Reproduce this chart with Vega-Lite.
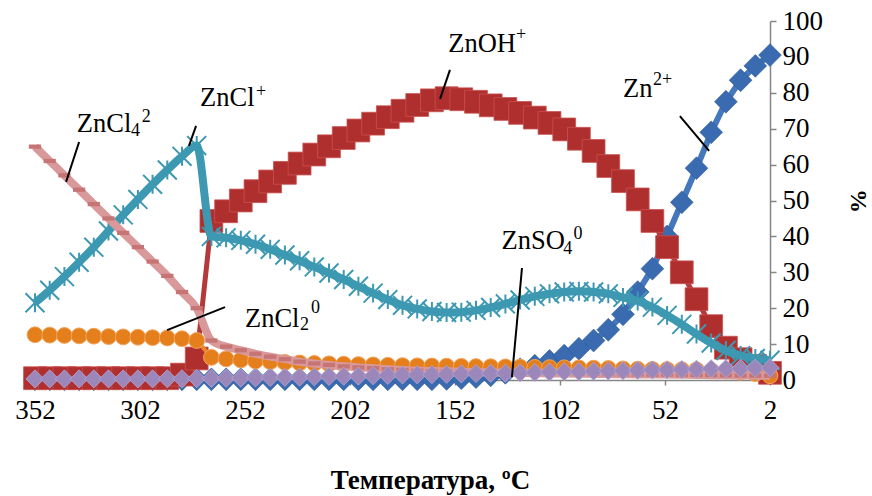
{
  "$schema": "https://vega.github.io/schema/vega-lite/v6.json",
  "width": 735,
  "height": 359,
  "autosize": {"type": "none"},
  "padding": {"left": 35, "top": 21, "right": 102, "bottom": 116},
  "background": "white",
  "config": {
    "view": {"stroke": null},
    "style": {
      "guide-label": {"font": "Liberation Serif", "fontSize": 27, "fill": "black"},
      "guide-title": {"font": "Liberation Serif", "fontWeight": "bold", "fill": "black"}
    }
  },
  "datasets": {
    "species": [
      {"T":352,"Zn":0.2,"ZnOH":0.5,"ZnCl":21.5,"ZnCl2":12.6,"ZnCl4":65,"ZnSO4":0.3},
      {"T":345,"Zn":0.2,"ZnOH":0.5,"ZnCl":25,"ZnCl2":12.5,"ZnCl4":61,"ZnSO4":0.3},
      {"T":338,"Zn":0.2,"ZnOH":0.5,"ZnCl":28.8,"ZnCl2":12.4,"ZnCl4":57,"ZnSO4":0.3},
      {"T":331,"Zn":0.2,"ZnOH":0.5,"ZnCl":32.8,"ZnCl2":12.3,"ZnCl4":53,"ZnSO4":0.3},
      {"T":324,"Zn":0.2,"ZnOH":0.5,"ZnCl":37,"ZnCl2":12.2,"ZnCl4":49,"ZnSO4":0.3},
      {"T":317,"Zn":0.2,"ZnOH":0.5,"ZnCl":41.5,"ZnCl2":12.1,"ZnCl4":45,"ZnSO4":0.3},
      {"T":310,"Zn":0.2,"ZnOH":0.5,"ZnCl":46,"ZnCl2":12,"ZnCl4":41,"ZnSO4":0.3},
      {"T":303,"Zn":0.2,"ZnOH":0.5,"ZnCl":50.3,"ZnCl2":11.9,"ZnCl4":37,"ZnSO4":0.3},
      {"T":296,"Zn":0.2,"ZnOH":0.5,"ZnCl":54.5,"ZnCl2":11.8,"ZnCl4":33,"ZnSO4":0.3},
      {"T":289,"Zn":0.2,"ZnOH":0.5,"ZnCl":58.5,"ZnCl2":11.7,"ZnCl4":29,"ZnSO4":0.35},
      {"T":282,"Zn":0.2,"ZnOH":1.5,"ZnCl":62.3,"ZnCl2":11.5,"ZnCl4":24.5,"ZnSO4":0.35},
      {"T":275,"Zn":0.2,"ZnOH":6,"ZnCl":65.3,"ZnCl2":11,"ZnCl4":20,"ZnSO4":0.4},
      {"T":268,"Zn":0.2,"ZnOH":44.3,"ZnCl":40,"ZnCl2":6.3,"ZnCl4":11,"ZnSO4":0.45},
      {"T":261,"Zn":0.2,"ZnOH":47,"ZnCl":39.6,"ZnCl2":5.9,"ZnCl4":9.3,"ZnSO4":0.5},
      {"T":254,"Zn":0.2,"ZnOH":50,"ZnCl":38.9,"ZnCl2":5.6,"ZnCl4":8.3,"ZnSO4":0.55},
      {"T":247,"Zn":0.2,"ZnOH":52.6,"ZnCl":37.8,"ZnCl2":5.3,"ZnCl4":7.3,"ZnSO4":0.6},
      {"T":240,"Zn":0.2,"ZnOH":55.3,"ZnCl":36.4,"ZnCl2":5.1,"ZnCl4":6.5,"ZnSO4":0.7},
      {"T":233,"Zn":0.2,"ZnOH":57.7,"ZnCl":34.8,"ZnCl2":4.9,"ZnCl4":5.8,"ZnSO4":0.75},
      {"T":226,"Zn":0.2,"ZnOH":60.3,"ZnCl":33.2,"ZnCl2":4.75,"ZnCl4":5.1,"ZnSO4":0.8},
      {"T":219,"Zn":0.2,"ZnOH":62.8,"ZnCl":31.5,"ZnCl2":4.6,"ZnCl4":4.6,"ZnSO4":0.9},
      {"T":212,"Zn":0.2,"ZnOH":65.1,"ZnCl":29.8,"ZnCl2":4.5,"ZnCl4":4.2,"ZnSO4":1.0},
      {"T":205,"Zn":0.2,"ZnOH":67.4,"ZnCl":28,"ZnCl2":4.4,"ZnCl4":3.8,"ZnSO4":1.05},
      {"T":198,"Zn":0.2,"ZnOH":69.5,"ZnCl":26.1,"ZnCl2":4.3,"ZnCl4":3.5,"ZnSO4":1.1},
      {"T":191,"Zn":0.2,"ZnOH":71.4,"ZnCl":24.2,"ZnCl2":4.2,"ZnCl4":3.3,"ZnSO4":1.2},
      {"T":184,"Zn":0.2,"ZnOH":73.2,"ZnCl":22.4,"ZnCl2":4.1,"ZnCl4":3.0,"ZnSO4":1.3},
      {"T":177,"Zn":0.2,"ZnOH":75,"ZnCl":20.8,"ZnCl2":4.0,"ZnCl4":2.8,"ZnSO4":1.4},
      {"T":170,"Zn":0.2,"ZnOH":76.6,"ZnCl":19.8,"ZnCl2":3.95,"ZnCl4":2.6,"ZnSO4":1.45},
      {"T":163,"Zn":0.2,"ZnOH":77.9,"ZnCl":19.1,"ZnCl2":3.9,"ZnCl4":2.5,"ZnSO4":1.5},
      {"T":156,"Zn":0.3,"ZnOH":78.5,"ZnCl":18.8,"ZnCl2":3.85,"ZnCl4":2.4,"ZnSO4":1.6},
      {"T":149,"Zn":0.5,"ZnOH":78.2,"ZnCl":18.9,"ZnCl2":3.8,"ZnCl4":2.3,"ZnSO4":1.7},
      {"T":142,"Zn":0.8,"ZnOH":77.5,"ZnCl":19.4,"ZnCl2":3.75,"ZnCl4":2.2,"ZnSO4":1.8},
      {"T":135,"Zn":1.3,"ZnOH":76.5,"ZnCl":20.2,"ZnCl2":3.7,"ZnCl4":2.1,"ZnSO4":1.85},
      {"T":128,"Zn":2,"ZnOH":75.5,"ZnCl":21.2,"ZnCl2":3.65,"ZnCl4":2.0,"ZnSO4":1.9},
      {"T":121,"Zn":3,"ZnOH":74.4,"ZnCl":22.3,"ZnCl2":3.6,"ZnCl4":1.95,"ZnSO4":2.0},
      {"T":114,"Zn":4,"ZnOH":73.1,"ZnCl":23.3,"ZnCl2":3.5,"ZnCl4":1.9,"ZnSO4":2.1},
      {"T":107,"Zn":5.3,"ZnOH":71.6,"ZnCl":24,"ZnCl2":3.45,"ZnCl4":1.85,"ZnSO4":2.2},
      {"T":100,"Zn":6.8,"ZnOH":69.8,"ZnCl":24.5,"ZnCl2":3.4,"ZnCl4":1.8,"ZnSO4":2.3},
      {"T":93,"Zn":8.7,"ZnOH":67.2,"ZnCl":24.7,"ZnCl2":3.35,"ZnCl4":1.75,"ZnSO4":2.35},
      {"T":86,"Zn":11,"ZnOH":63.8,"ZnCl":24.5,"ZnCl2":3.3,"ZnCl4":1.7,"ZnSO4":2.45},
      {"T":79,"Zn":14,"ZnOH":59.6,"ZnCl":24,"ZnCl2":3.2,"ZnCl4":1.65,"ZnSO4":2.5},
      {"T":72,"Zn":18.3,"ZnOH":55.4,"ZnCl":23,"ZnCl2":3.1,"ZnCl4":1.6,"ZnSO4":2.6},
      {"T":65,"Zn":24.5,"ZnOH":50.3,"ZnCl":22,"ZnCl2":3.0,"ZnCl4":1.55,"ZnSO4":2.7},
      {"T":58,"Zn":31,"ZnOH":44.3,"ZnCl":20.3,"ZnCl2":2.95,"ZnCl4":1.5,"ZnSO4":2.8},
      {"T":51,"Zn":40,"ZnOH":37,"ZnCl":18,"ZnCl2":2.9,"ZnCl4":1.5,"ZnSO4":2.85},
      {"T":44,"Zn":49.5,"ZnOH":30,"ZnCl":15.5,"ZnCl2":2.85,"ZnCl4":1.45,"ZnSO4":2.9},
      {"T":37,"Zn":59,"ZnOH":22.5,"ZnCl":12.8,"ZnCl2":2.8,"ZnCl4":1.4,"ZnSO4":3.0},
      {"T":30,"Zn":69,"ZnOH":15,"ZnCl":10.3,"ZnCl2":2.6,"ZnCl4":1.35,"ZnSO4":3.1},
      {"T":23,"Zn":77.5,"ZnOH":9,"ZnCl":8.2,"ZnCl2":2.5,"ZnCl4":1.3,"ZnSO4":3.15},
      {"T":16,"Zn":83.5,"ZnOH":5.8,"ZnCl":6.8,"ZnCl2":2.2,"ZnCl4":1.25,"ZnSO4":3.2},
      {"T":9,"Zn":87.5,"ZnOH":3.9,"ZnCl":6,"ZnCl2":1.8,"ZnCl4":1.2,"ZnSO4":3.3},
      {"T":2,"Zn":90.5,"ZnOH":2,"ZnCl":5.5,"ZnCl2":1.2,"ZnCl4":1.2,"ZnSO4":3.4}
    ],
    "leaders": [
      {"T":331,"v":66.3,"T2":337.2,"v2":55.2},
      {"T":275.3,"v":70.8,"T2":278.7,"v2":65.2},
      {"T":154.4,"v":86.4,"T2":159.1,"v2":78.3},
      {"T":44.9,"v":73.5,"T2":31,"v2":63.8},
      {"T":120.1,"v":31.2,"T2":124.9,"v2":0.8},
      {"T":261.5,"v":20.3,"T2":289.1,"v2":13.9}
    ],
    "labels": [
      {"label":"ZnCl","T":332.1,"v":69.2},
      {"label":"ZnCl","T":273.4,"v":76.3},
      {"label":"ZnOH","T":155.2,"v":91.4},
      {"label":"Zn","T":72,"v":78.9},
      {"label":"ZnSO","T":129.8,"v":36.4},
      {"label":"ZnCl","T":252,"v":14.8}
    ],
    "scripts": [
      {"label":"4","T":306.3,"v":67.9},
      {"label":"2","T":301.2,"v":71.9},
      {"label":"+","T":246.8,"v":78.8},
      {"label":"+","T":123,"v":94.7},
      {"label":"2+","T":57.7,"v":82.2},
      {"label":"4","T":100.4,"v":35.0},
      {"label":"0","T":95.6,"v":39.4},
      {"label":"2","T":225.8,"v":13.9},
      {"label":"0","T":220.6,"v":18.7}
    ]
  },
  "encoding": {
    "x": {"field": "T", "type": "quantitative", "scale": {"domain": [2, 352], "reverse": true, "nice": false, "zero": false},
      "axis": {"values": [352, 302, 252, 202, 152, 102, 52, 2], "grid": false, "domainColor": "#868686", "tickColor": "#868686", "domainWidth": 1.5, "tickWidth": 1.5, "tickSize": 5,
        "labelFont": "Liberation Serif", "labelFontSize": 27, "labelColor": "black", "labelPadding": 12, "labelFlush": false, "labelOverlap": false,
        "title": "Температура, ºC", "titleFont": "Liberation Serif", "titleFontSize": 27, "titleFontWeight": "bold", "titleColor": "black",
        "titleX": 395, "titleY": 108, "titleBaseline": "alphabetic", "titleAlign": "center"}}
  },
  "layer": [
    {
      "data": {"name": "species"},
      "mark": {"type": "line", "color": "#4577BD", "strokeWidth": 6},
      "encoding": {
        "y": {"field": "Zn", "type": "quantitative", "scale": {"domain": [0, 100], "nice": false},
          "axis": {"orient": "right", "values": [0, 10, 20, 30, 40, 50, 60, 70, 80, 90, 100], "grid": false, "domainColor": "#868686", "tickColor": "#868686", "domainWidth": 1.5, "tickWidth": 1.5, "tickSize": 6,
            "labelFont": "Liberation Serif", "labelFontSize": 27, "labelColor": "black", "labelPadding": 6, "labelFlush": false, "labelOverlap": false,
            "title": "%", "titleFont": "Liberation Serif", "titleFontSize": 24, "titleFontWeight": "bold", "titleColor": "black",
            "titleAngle": 90, "titleX": 87, "titleY": 179.5, "titleAlign": "center", "titleBaseline": "middle"}}
      }
    },
    {
      "data": {"name": "species"},
      "mark": {"type": "point", "shape": "diamond", "size": 520, "filled": true, "color": "#3A6BB0", "stroke": "#2E5A96", "strokeWidth": 0.6, "opacity": 1},
      "encoding": {
        "y": {"field": "Zn", "type": "quantitative",
          "axis": {"orient": "right", "values": [0, 10, 20, 30, 40, 50, 60, 70, 80, 90, 100], "grid": false, "domainColor": "#868686", "tickColor": "#868686", "domainWidth": 1.5, "tickWidth": 1.5, "tickSize": 6,
            "labelFont": "Liberation Serif", "labelFontSize": 27, "labelColor": "black", "labelPadding": 6, "labelFlush": false, "labelOverlap": false,
            "title": "%", "titleFont": "Liberation Serif", "titleFontSize": 24, "titleFontWeight": "bold", "titleColor": "black",
            "titleAngle": 90, "titleX": 87, "titleY": 179.5, "titleAlign": "center", "titleBaseline": "middle"}}
      }
    },
    {
      "data": {"name": "species"},
      "mark": {"type": "line", "color": "#B3393A", "strokeWidth": 5},
      "encoding": {
        "y": {"field": "ZnOH", "type": "quantitative",
          "axis": {"orient": "right", "values": [0, 10, 20, 30, 40, 50, 60, 70, 80, 90, 100], "grid": false, "domainColor": "#868686", "tickColor": "#868686", "domainWidth": 1.5, "tickWidth": 1.5, "tickSize": 6,
            "labelFont": "Liberation Serif", "labelFontSize": 27, "labelColor": "black", "labelPadding": 6, "labelFlush": false, "labelOverlap": false,
            "title": "%", "titleFont": "Liberation Serif", "titleFontSize": 24, "titleFontWeight": "bold", "titleColor": "black",
            "titleAngle": 90, "titleX": 87, "titleY": 179.5, "titleAlign": "center", "titleBaseline": "middle"}}
      }
    },
    {
      "data": {"name": "species"},
      "mark": {"type": "point", "shape": "square", "size": 520, "filled": true, "color": "#AF2F2F", "stroke": "#C9504F", "strokeWidth": 0.8, "opacity": 1},
      "encoding": {
        "y": {"field": "ZnOH", "type": "quantitative",
          "axis": {"orient": "right", "values": [0, 10, 20, 30, 40, 50, 60, 70, 80, 90, 100], "grid": false, "domainColor": "#868686", "tickColor": "#868686", "domainWidth": 1.5, "tickWidth": 1.5, "tickSize": 6,
            "labelFont": "Liberation Serif", "labelFontSize": 27, "labelColor": "black", "labelPadding": 6, "labelFlush": false, "labelOverlap": false,
            "title": "%", "titleFont": "Liberation Serif", "titleFontSize": 24, "titleFontWeight": "bold", "titleColor": "black",
            "titleAngle": 90, "titleX": 87, "titleY": 179.5, "titleAlign": "center", "titleBaseline": "middle"}}
      }
    },
    {
      "data": {"name": "species"},
      "mark": {"type": "line", "color": "#3D99B2", "strokeWidth": 8, "interpolate": "monotone"},
      "encoding": {
        "y": {"field": "ZnCl", "type": "quantitative",
          "axis": {"orient": "right", "values": [0, 10, 20, 30, 40, 50, 60, 70, 80, 90, 100], "grid": false, "domainColor": "#868686", "tickColor": "#868686", "domainWidth": 1.5, "tickWidth": 1.5, "tickSize": 6,
            "labelFont": "Liberation Serif", "labelFontSize": 27, "labelColor": "black", "labelPadding": 6, "labelFlush": false, "labelOverlap": false,
            "title": "%", "titleFont": "Liberation Serif", "titleFontSize": 24, "titleFontWeight": "bold", "titleColor": "black",
            "titleAngle": 90, "titleX": 87, "titleY": 179.5, "titleAlign": "center", "titleBaseline": "middle"}}
      }
    },
    {
      "data": {"name": "species"},
      "mark": {"type": "point", "shape": "M-1,-1L1,1M-1,1L1,-1M0,-1L0,1", "size": 360, "filled": false, "stroke": "#3D99B2", "strokeWidth": 2, "opacity": 1},
      "encoding": {
        "y": {"field": "ZnCl", "type": "quantitative",
          "axis": {"orient": "right", "values": [0, 10, 20, 30, 40, 50, 60, 70, 80, 90, 100], "grid": false, "domainColor": "#868686", "tickColor": "#868686", "domainWidth": 1.5, "tickWidth": 1.5, "tickSize": 6,
            "labelFont": "Liberation Serif", "labelFontSize": 27, "labelColor": "black", "labelPadding": 6, "labelFlush": false, "labelOverlap": false,
            "title": "%", "titleFont": "Liberation Serif", "titleFontSize": 24, "titleFontWeight": "bold", "titleColor": "black",
            "titleAngle": 90, "titleX": 87, "titleY": 179.5, "titleAlign": "center", "titleBaseline": "middle"}}
      }
    },
    {
      "data": {"name": "species"},
      "mark": {"type": "line", "color": "#E9852A", "strokeWidth": 4},
      "encoding": {
        "y": {"field": "ZnCl2", "type": "quantitative",
          "axis": {"orient": "right", "values": [0, 10, 20, 30, 40, 50, 60, 70, 80, 90, 100], "grid": false, "domainColor": "#868686", "tickColor": "#868686", "domainWidth": 1.5, "tickWidth": 1.5, "tickSize": 6,
            "labelFont": "Liberation Serif", "labelFontSize": 27, "labelColor": "black", "labelPadding": 6, "labelFlush": false, "labelOverlap": false,
            "title": "%", "titleFont": "Liberation Serif", "titleFontSize": 24, "titleFontWeight": "bold", "titleColor": "black",
            "titleAngle": 90, "titleX": 87, "titleY": 179.5, "titleAlign": "center", "titleBaseline": "middle"}}
      }
    },
    {
      "data": {"name": "species"},
      "mark": {"type": "point", "shape": "circle", "size": 250, "filled": true, "color": "#E57F1C", "stroke": "#F2A55C", "strokeWidth": 1, "opacity": 1},
      "encoding": {
        "y": {"field": "ZnCl2", "type": "quantitative",
          "axis": {"orient": "right", "values": [0, 10, 20, 30, 40, 50, 60, 70, 80, 90, 100], "grid": false, "domainColor": "#868686", "tickColor": "#868686", "domainWidth": 1.5, "tickWidth": 1.5, "tickSize": 6,
            "labelFont": "Liberation Serif", "labelFontSize": 27, "labelColor": "black", "labelPadding": 6, "labelFlush": false, "labelOverlap": false,
            "title": "%", "titleFont": "Liberation Serif", "titleFontSize": 24, "titleFontWeight": "bold", "titleColor": "black",
            "titleAngle": 90, "titleX": 87, "titleY": 179.5, "titleAlign": "center", "titleBaseline": "middle"}}
      }
    },
    {
      "data": {"name": "species"},
      "mark": {"type": "line", "color": "#D9999A", "strokeWidth": 8, "interpolate": "monotone"},
      "encoding": {
        "y": {"field": "ZnCl4", "type": "quantitative",
          "axis": {"orient": "right", "values": [0, 10, 20, 30, 40, 50, 60, 70, 80, 90, 100], "grid": false, "domainColor": "#868686", "tickColor": "#868686", "domainWidth": 1.5, "tickWidth": 1.5, "tickSize": 6,
            "labelFont": "Liberation Serif", "labelFontSize": 27, "labelColor": "black", "labelPadding": 6, "labelFlush": false, "labelOverlap": false,
            "title": "%", "titleFont": "Liberation Serif", "titleFontSize": 24, "titleFontWeight": "bold", "titleColor": "black",
            "titleAngle": 90, "titleX": 87, "titleY": 179.5, "titleAlign": "center", "titleBaseline": "middle"}}
      }
    },
    {
      "data": {"name": "species"},
      "mark": {"type": "point", "shape": "M-1,-0.35L1,-0.35L1,0.35L-1,0.35Z", "size": 150, "filled": true, "color": "#C77574", "opacity": 1},
      "encoding": {
        "y": {"field": "ZnCl4", "type": "quantitative",
          "axis": {"orient": "right", "values": [0, 10, 20, 30, 40, 50, 60, 70, 80, 90, 100], "grid": false, "domainColor": "#868686", "tickColor": "#868686", "domainWidth": 1.5, "tickWidth": 1.5, "tickSize": 6,
            "labelFont": "Liberation Serif", "labelFontSize": 27, "labelColor": "black", "labelPadding": 6, "labelFlush": false, "labelOverlap": false,
            "title": "%", "titleFont": "Liberation Serif", "titleFontSize": 24, "titleFontWeight": "bold", "titleColor": "black",
            "titleAngle": 90, "titleX": 87, "titleY": 179.5, "titleAlign": "center", "titleBaseline": "middle"}}
      }
    },
    {
      "data": {"name": "species"},
      "mark": {"type": "line", "color": "#9F8BBE", "strokeWidth": 4},
      "encoding": {
        "y": {"field": "ZnSO4", "type": "quantitative",
          "axis": {"orient": "right", "values": [0, 10, 20, 30, 40, 50, 60, 70, 80, 90, 100], "grid": false, "domainColor": "#868686", "tickColor": "#868686", "domainWidth": 1.5, "tickWidth": 1.5, "tickSize": 6,
            "labelFont": "Liberation Serif", "labelFontSize": 27, "labelColor": "black", "labelPadding": 6, "labelFlush": false, "labelOverlap": false,
            "title": "%", "titleFont": "Liberation Serif", "titleFontSize": 24, "titleFontWeight": "bold", "titleColor": "black",
            "titleAngle": 90, "titleX": 87, "titleY": 179.5, "titleAlign": "center", "titleBaseline": "middle"}}
      }
    },
    {
      "data": {"name": "species"},
      "mark": {"type": "point", "shape": "diamond", "size": 330, "filled": true, "color": "#9C87BA", "stroke": "#B7A6D0", "strokeWidth": 0.8, "opacity": 1},
      "encoding": {
        "y": {"field": "ZnSO4", "type": "quantitative",
          "axis": {"orient": "right", "values": [0, 10, 20, 30, 40, 50, 60, 70, 80, 90, 100], "grid": false, "domainColor": "#868686", "tickColor": "#868686", "domainWidth": 1.5, "tickWidth": 1.5, "tickSize": 6,
            "labelFont": "Liberation Serif", "labelFontSize": 27, "labelColor": "black", "labelPadding": 6, "labelFlush": false, "labelOverlap": false,
            "title": "%", "titleFont": "Liberation Serif", "titleFontSize": 24, "titleFontWeight": "bold", "titleColor": "black",
            "titleAngle": 90, "titleX": 87, "titleY": 179.5, "titleAlign": "center", "titleBaseline": "middle"}}
      }
    },
    {
      "data": {"name": "leaders"},
      "mark": {"type": "rule", "color": "black", "strokeWidth": 2},
      "encoding": {
        "y": {"field": "v", "type": "quantitative",
          "axis": {"orient": "right", "values": [0, 10, 20, 30, 40, 50, 60, 70, 80, 90, 100], "grid": false, "domainColor": "#868686", "tickColor": "#868686", "domainWidth": 1.5, "tickWidth": 1.5, "tickSize": 6,
            "labelFont": "Liberation Serif", "labelFontSize": 27, "labelColor": "black", "labelPadding": 6, "labelFlush": false, "labelOverlap": false,
            "title": "%", "titleFont": "Liberation Serif", "titleFontSize": 24, "titleFontWeight": "bold", "titleColor": "black",
            "titleAngle": 90, "titleX": 87, "titleY": 179.5, "titleAlign": "center", "titleBaseline": "middle"}},
        "x2": {"field": "T2"},
        "y2": {"field": "v2"}
      }
    },
    {
      "data": {"name": "labels"},
      "mark": {"type": "text", "font": "Liberation Serif", "fontSize": 26.5, "align": "left", "baseline": "alphabetic", "color": "black"},
      "encoding": {
        "y": {"field": "v", "type": "quantitative",
          "axis": {"orient": "right", "values": [0, 10, 20, 30, 40, 50, 60, 70, 80, 90, 100], "grid": false, "domainColor": "#868686", "tickColor": "#868686", "domainWidth": 1.5, "tickWidth": 1.5, "tickSize": 6,
            "labelFont": "Liberation Serif", "labelFontSize": 27, "labelColor": "black", "labelPadding": 6, "labelFlush": false, "labelOverlap": false,
            "title": "%", "titleFont": "Liberation Serif", "titleFontSize": 24, "titleFontWeight": "bold", "titleColor": "black",
            "titleAngle": 90, "titleX": 87, "titleY": 179.5, "titleAlign": "center", "titleBaseline": "middle"}},
        "text": {"field": "label"}
      }
    },
    {
      "data": {"name": "scripts"},
      "mark": {"type": "text", "font": "Liberation Serif", "fontSize": 18, "align": "left", "baseline": "alphabetic", "color": "black"},
      "encoding": {
        "y": {"field": "v", "type": "quantitative",
          "axis": {"orient": "right", "values": [0, 10, 20, 30, 40, 50, 60, 70, 80, 90, 100], "grid": false, "domainColor": "#868686", "tickColor": "#868686", "domainWidth": 1.5, "tickWidth": 1.5, "tickSize": 6,
            "labelFont": "Liberation Serif", "labelFontSize": 27, "labelColor": "black", "labelPadding": 6, "labelFlush": false, "labelOverlap": false,
            "title": "%", "titleFont": "Liberation Serif", "titleFontSize": 24, "titleFontWeight": "bold", "titleColor": "black",
            "titleAngle": 90, "titleX": 87, "titleY": 179.5, "titleAlign": "center", "titleBaseline": "middle"}},
        "text": {"field": "label"}
      }
    }
  ]
}
